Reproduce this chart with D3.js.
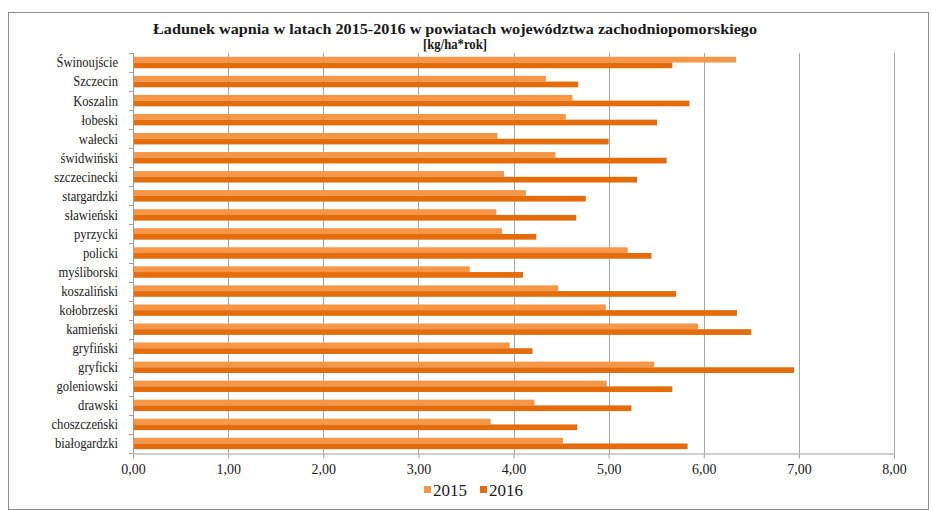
<!DOCTYPE html>
<html>
<head>
<meta charset="utf-8">
<script src="https://cdn.jsdelivr.net/npm/d3@7"></script>
<style>
  html, body { margin: 0; padding: 0; background: #fff; }
  svg { display: block; }
  text { font-family: "Liberation Serif", "Times New Roman", serif; fill: #1a1a1a; }
</style>
</head>
<body>
<svg id="chart" width="932" height="510"></svg>
<script>
// Powiaty (top to bottom as listed on the chart)
const categories = [
  "Świnoujście", "Szczecin", "Koszalin", "łobeski", "wałecki", "świdwiński",
  "szczecinecki", "stargardzki", "sławieński", "pyrzycki", "policki",
  "myśliborski", "koszaliński", "kołobrzeski", "kamieński", "gryfiński",
  "gryficki", "goleniowski", "drawski", "choszczeński", "białogardzki"
];

// Calcium load [kg/ha*rok]
const values2015 = [
  6.34, 4.34, 4.62, 4.55, 3.83, 4.44,
  3.90, 4.13, 3.82, 3.88, 5.20,
  3.54, 4.47, 4.97, 5.94, 3.96,
  5.48, 4.98, 4.22, 3.76, 4.52
];
const values2016 = [
  5.67, 4.68, 5.85, 5.51, 5.00, 5.61,
  5.30, 4.76, 4.66, 4.24, 5.45,
  4.10, 5.71, 6.35, 6.50, 4.20,
  6.95, 5.67, 5.24, 4.67, 5.83
];

const seriesNames = ["2015", "2016"];
const seriesColors = ["#F79646", "#E46C0A"];
const xTicks = [0, 1, 2, 3, 4, 5, 6, 7, 8];

const titleLine1 = "Ładunek wapnia w latach 2015-2016 w powiatach województwa zachodniopomorskiego";
const titleLine2 = "[kg/ha*rok]";

const svg = d3.select("#chart");

// outer chart frame
svg.append("rect")
  .attr("x", 8.5).attr("y", 12.5)
  .attr("width", 920).attr("height", 497)
  .attr("fill", "#fff").attr("stroke", "#8c8c8c").attr("stroke-width", 1);

const plot = { left: 133, right: 894, top: 53, bottom: 453 };

const x = d3.scaleLinear().domain([0, 8]).range([plot.left, plot.right]);
const y0 = d3.scaleBand().domain(categories)
  .range([plot.top, plot.bottom]).paddingInner(0.4).paddingOuter(0.2);
const y1 = d3.scaleBand().domain(seriesNames).range([0, y0.bandwidth()]);

// vertical gridlines
svg.append("g").selectAll("line")
  .data(xTicks.filter(d => d > 0))
  .join("line")
  .attr("x1", d => Math.round(x(d)) + 0.5).attr("x2", d => Math.round(x(d)) + 0.5)
  .attr("y1", plot.top).attr("y2", plot.bottom)
  .attr("stroke", "#a6a6a6").attr("stroke-width", 1);

// bars
const rows = categories.map((c, i) => ({ cat: c, vals: [values2015[i], values2016[i]] }));
const groups = svg.append("g").selectAll("g")
  .data(rows).join("g")
  .attr("transform", d => `translate(0,${y0(d.cat)})`);

groups.selectAll("rect")
  .data(d => d.vals.map((v, k) => ({ v, k })))
  .join("rect")
  .attr("x", x(0))
  .attr("y", d => y1(seriesNames[d.k]))
  .attr("width", d => x(d.v) - x(0))
  .attr("height", y1.bandwidth())
  .attr("fill", d => seriesColors[d.k]);

// bottom axis
const xAxis = d3.axisBottom(x).tickValues(xTicks)
  .tickFormat(d => d3.format(".2f")(d).replace(".", ","))
  .tickSize(5).tickPadding(6);
const gx = svg.append("g")
  .attr("transform", `translate(0,${plot.bottom + 0.5})`)
  .call(xAxis)
  .attr("font-family", "Liberation Serif, serif");
gx.select(".domain").attr("stroke", "#a0a0a0");
gx.selectAll(".tick line").attr("stroke", "#a0a0a0");
gx.selectAll(".tick text")
  .attr("font-size", 14).attr("fill", "#333");

// left axis line with category separators
const stepY = (plot.bottom - plot.top) / categories.length;
const gy = svg.append("g");
gy.append("line")
  .attr("x1", plot.left + 0.5).attr("x2", plot.left + 0.5)
  .attr("y1", plot.top).attr("y2", plot.bottom)
  .attr("stroke", "#a0a0a0");
gy.selectAll("line.sep")
  .data(d3.range(categories.length + 1))
  .join("line").attr("class", "sep")
  .attr("x1", plot.left - 4).attr("x2", plot.left)
  .attr("y1", i => Math.round(plot.top + i * stepY) + 0.5)
  .attr("y2", i => Math.round(plot.top + i * stepY) + 0.5)
  .attr("stroke", "#a0a0a0");

// category labels, slightly condensed
svg.append("g").selectAll("text")
  .data(categories).join("text")
  .attr("x", 118)
  .attr("y", d => y0(d) + y0.bandwidth() / 2)
  .attr("dy", "0.35em")
  .attr("text-anchor", "end")
  .attr("font-size", 14)
  .text(d => d)
  .each(function () {
    const w = this.getComputedTextLength();
    d3.select(this).attr("textLength", w * 0.9).attr("lengthAdjust", "spacingAndGlyphs");
  });

// title
svg.append("text")
  .attr("x", 455).attr("y", 34)
  .attr("text-anchor", "middle")
  .attr("font-size", 14.5).attr("font-weight", "bold")
  .attr("textLength", 604).attr("lengthAdjust", "spacingAndGlyphs")
  .text(titleLine1);
svg.append("text")
  .attr("x", 455).attr("y", 49)
  .attr("text-anchor", "middle")
  .attr("font-size", 14.5).attr("font-weight", "bold")
  .attr("textLength", 64).attr("lengthAdjust", "spacingAndGlyphs")
  .text(titleLine2);

// legend
const legend = svg.append("g");
const legendX = [424, 480];
seriesNames.forEach((name, k) => {
  legend.append("rect")
    .attr("x", legendX[k]).attr("y", 486)
    .attr("width", 7).attr("height", 7)
    .attr("fill", seriesColors[k]);
  legend.append("text")
    .attr("x", legendX[k] + 9).attr("y", 496)
    .attr("font-size", 17)
    .text(name);
});
</script>
</body>
</html>
